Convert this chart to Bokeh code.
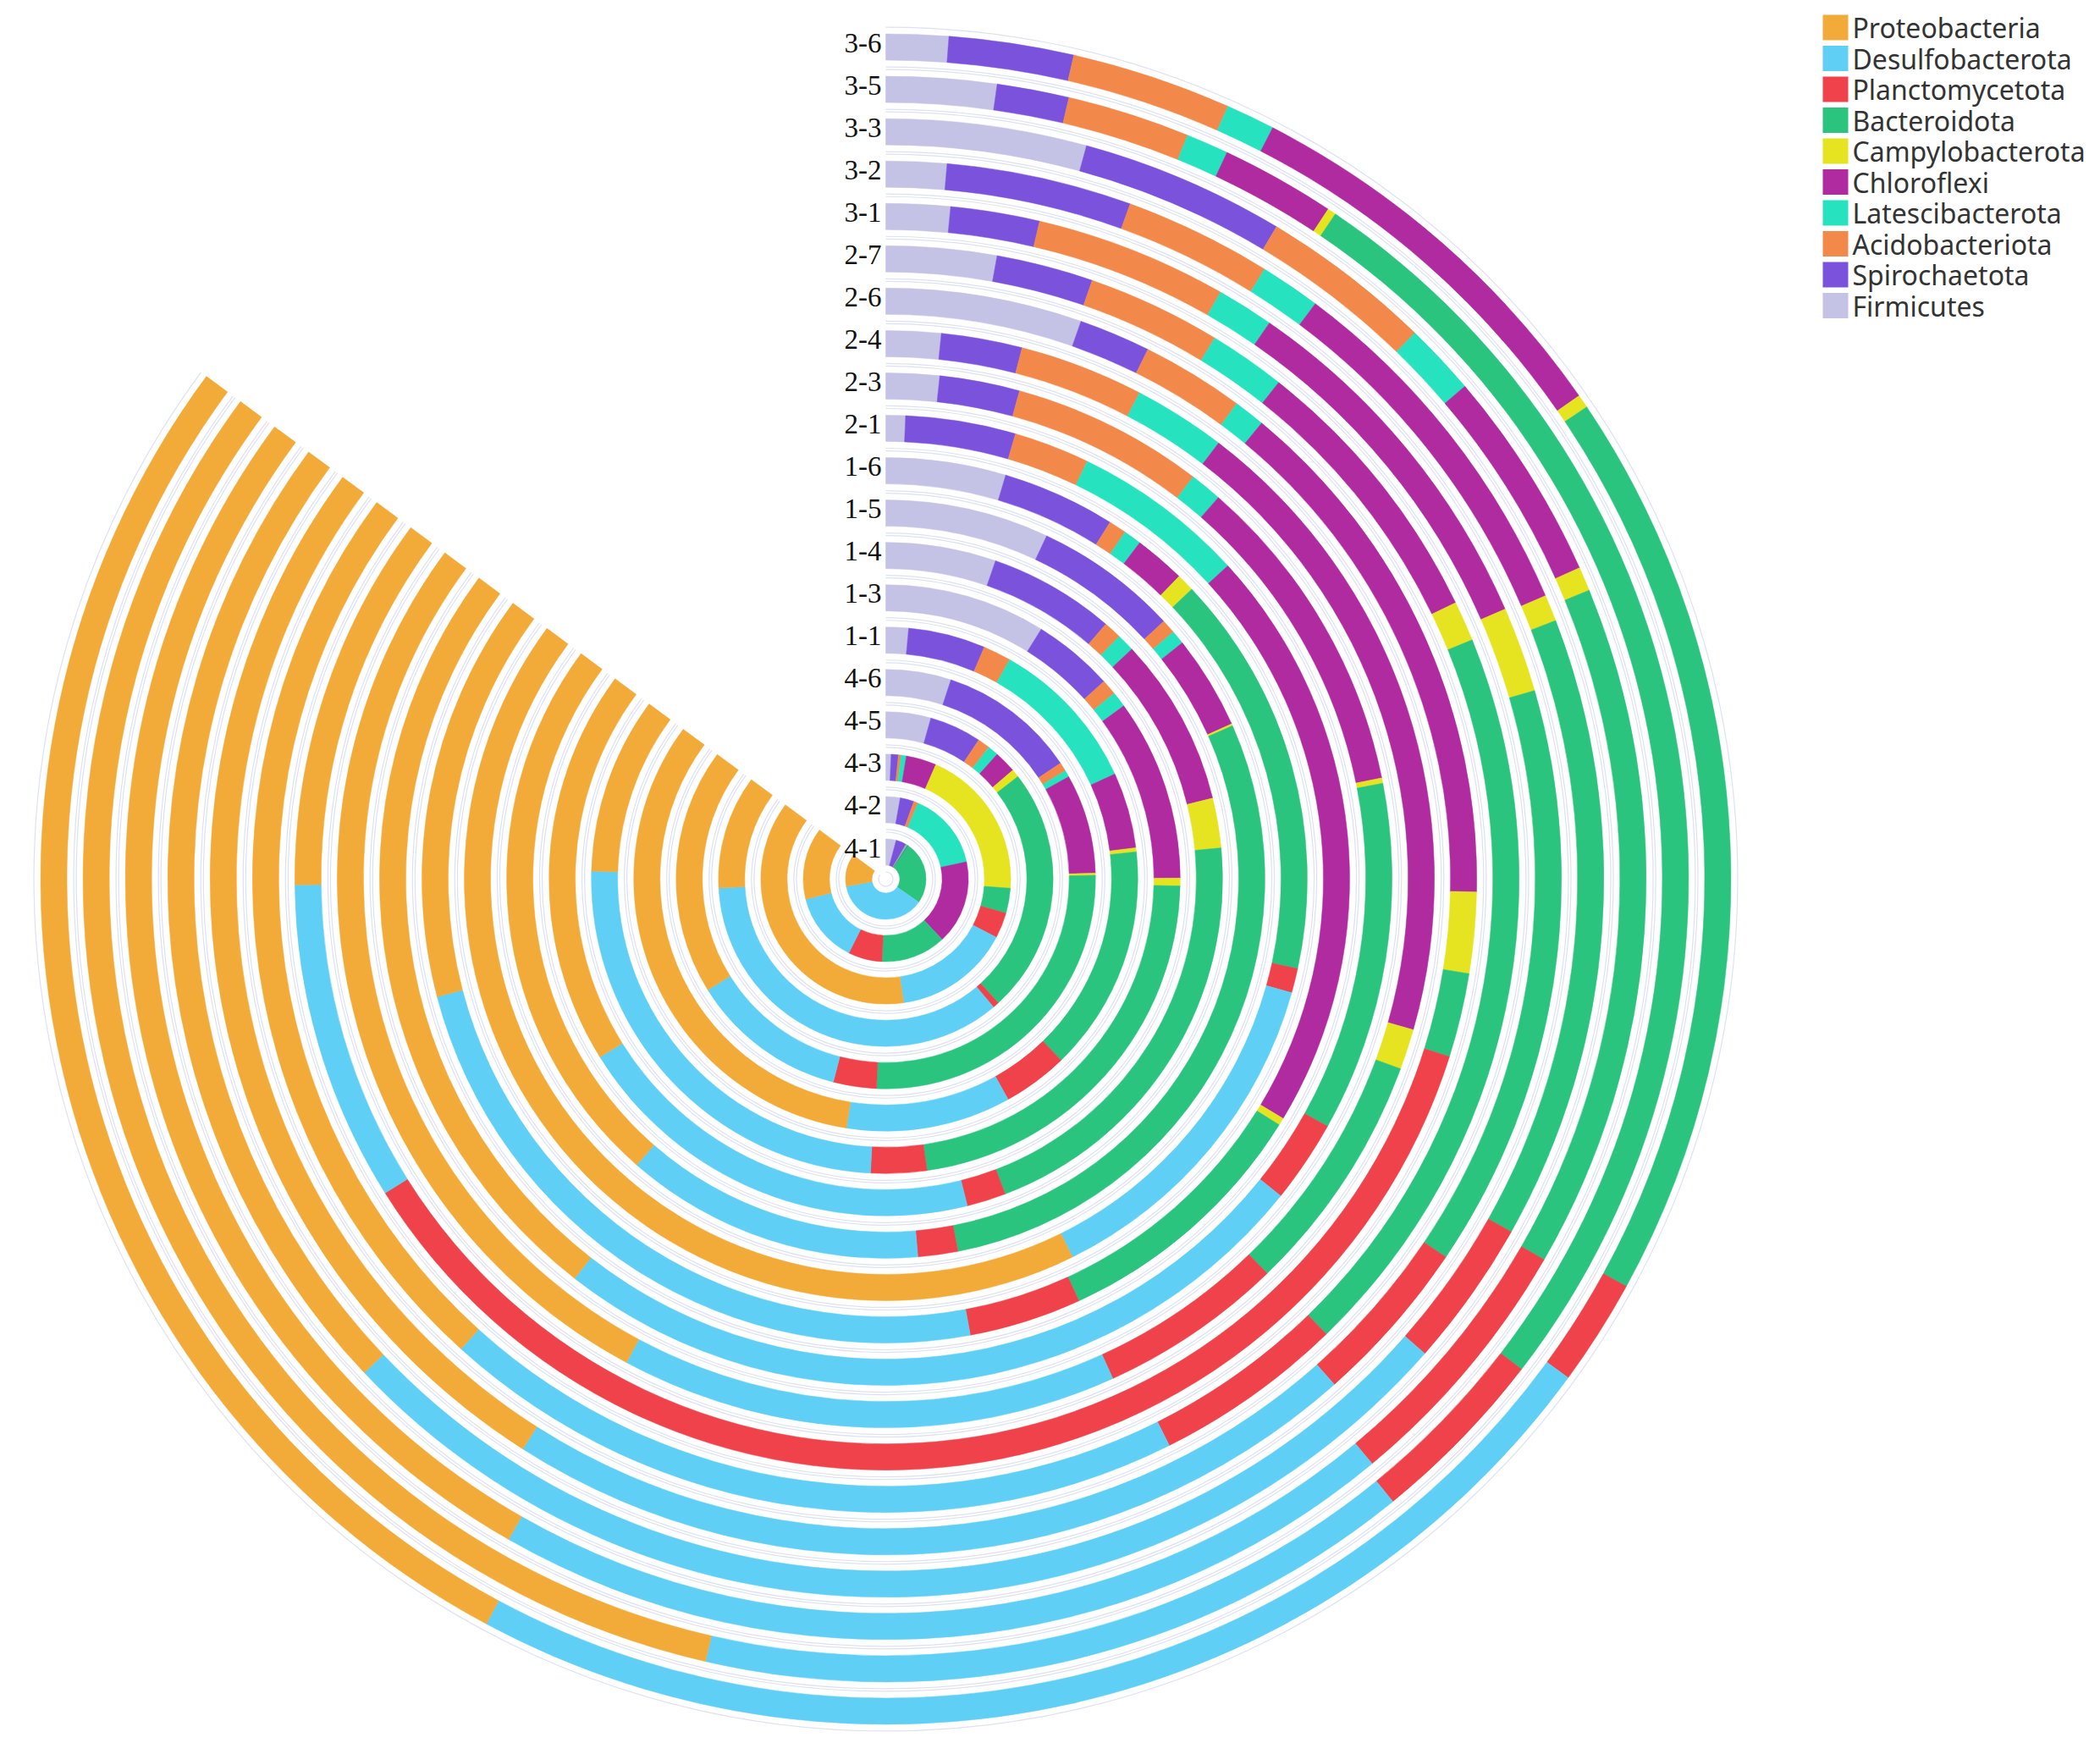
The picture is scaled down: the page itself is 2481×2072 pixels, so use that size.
import math
from bokeh.plotting import figure
from bokeh.models import ColumnDataSource, Range1d
from bokeh.embed import file_html
from bokeh.resources import INLINE
from bokeh.core.properties import value

# ---------------- data (relative abundance, %) ----------------
samples = ["4-1", "4-2", "4-3", "4-5", "4-6", "1-1", "1-3", "1-4", "1-5", "1-6",
           "2-1", "2-3", "2-4", "2-6", "2-7", "3-1", "3-2", "3-3", "3-5", "3-6"]

phyla = ["Proteobacteria", "Desulfobacterota", "Planctomycetota", "Bacteroidota",
         "Campylobacterota", "Chloroflexi", "Latescibacterota", "Acidobacteriota",
         "Spirochaetota", "Firmicutes"]

colors = ["#F2AB39", "#60CFF5", "#EF424A", "#2AC47F", "#E6E421",
          "#B02AA0", "#27E2BF", "#F2884A", "#7B52DC", "#C4C3E5"]

firmicutes       = [4.9, 3.3, 0.8, 5.1, 5.9, 1.7, 10.4, 6.2, 8.2, 5.4, 0.8, 2.0, 1.9, 6.3, 3.3, 1.8, 1.6, 5.0, 2.6, 1.4]
spirochaetota    = [4.9, 3.2, 1.1, 5.9, 12.5, 5.8, 5.2, 7.1, 7.2, 5.1, 4.5, 3.0, 2.8, 2.3, 2.9, 2.5, 4.9, 5.1, 1.7, 2.8]
acidobacteriota  = [0.3, 1.0, 0.4, 1.4, 0.8, 2.1, 1.0, 1.0, 0.7, 0.8, 3.1, 7.2, 4.3, 3.3, 4.0, 5.4, 3.9, 4.3, 2.9, 3.6]
latescibacterota = [0.7, 17.9, 0.8, 1.2, 0.6, 11.7, 1.0, 1.0, 0.7, 0.8, 7.1, 1.2, 3.2, 1.0, 2.3, 1.6, 1.6, 1.8, 1.0, 1.1]
chloroflexi      = [0.3, 19.3, 4.6, 2.5, 9.0, 5.7, 11.7, 9.5, 4.7, 2.3, 24.0, 12.2, 22.4, 16.9, 8.4, 10.4, 9.8, 5.3, 2.7, 9.1]
campylobacterota = [0.0, 0.0, 23.0, 0.9, 0.2, 0.3, 0.5, 2.8, 0.1, 0.8, 0.3, 0.2, 1.4, 2.6, 1.2, 2.4, 0.7, 0.6, 0.2, 0.3]
bacteroidota     = [29.7, 14.9, 3.8, 27.9, 30.5, 17.0, 26.3, 24.3, 33.6, 18.2, 10.9, 13.1, 8.4, 2.7, 22.2, 16.4, 16.5, 17.1, 30.5, 20.5]
planctomycetota  = [0.0, 7.8, 3.9, 0.7, 3.9, 4.9, 3.6, 2.2, 2.0, 1.1, 4.6, 3.1, 6.4, 42.6, 5.7, 4.7, 3.9, 6.6, 4.3, 2.4]
desulfobacterota = [43.9, 16.1, 17.6, 41.4, 14.2, 12.4, 28.9, 23.5, 15.0, 15.7, 28.0, 29.1, 17.2, 10.3, 22.4, 24.2, 31.1, 22.7, 17.0, 26.8]
proteobacteria   = [15.3, 16.5, 43.9, 12.9, 22.3, 38.3, 11.4, 22.3, 27.9, 49.9, 16.7, 28.9, 32.1, 12.1, 27.5, 30.7, 26.1, 31.6, 37.0, 32.1]

series = {
    "Proteobacteria": proteobacteria, "Desulfobacterota": desulfobacterota,
    "Planctomycetota": planctomycetota, "Bacteroidota": bacteroidota,
    "Campylobacterota": campylobacterota, "Chloroflexi": chloroflexi,
    "Latescibacterota": latescibacterota, "Acidobacteriota": acidobacteriota,
    "Spirochaetota": spirochaetota, "Firmicutes": firmicutes,
}
color_of = dict(zip(phyla, colors))
stack_order = list(reversed(phyla))  # clockwise from 12 o'clock

# ---------------- geometry (data units == screen pixels) ----------------
W, H = 2465, 2056
PAGE_H = 2072
CX, CY = 1046, PAGE_H - 1038
SWEEP = 306.5           # angular extent of each full ring (degrees)
R0, STEP, HALF = 32.0, 50.05, 15.5

def rad(deg):
    return math.radians(deg)

p = figure(width=W, height=H, output_backend="svg", toolbar_location=None,
           x_range=Range1d(0, W), y_range=Range1d(PAGE_H - H, PAGE_H),
           min_border=0, outline_line_color=None, background_fill_color="white")
p.axis.visible = False
p.grid.visible = False

xs, ys, rin, rout, a_start, a_end, cols = [], [], [], [], [], [], []
arc_r, arc_s, arc_e = [], [], []
for i, s in enumerate(samples):
    r = R0 + STEP * i
    vals = [series[name][i] for name in stack_order]
    total = sum(vals)
    cum = 0.0
    for name, v in zip(stack_order, vals):
        if v <= 0:
            continue
        t0 = cum / total * SWEEP
        cum += v
        t1 = cum / total * SWEEP
        xs.append(CX); ys.append(CY)
        rin.append(r - HALF); rout.append(r + HALF)
        a_start.append(rad(90 - t1)); a_end.append(rad(90 - t0))
        cols.append(color_of[name])
    for rr in (r - HALF - 8, r + HALF + 8):
        arc_r.append(rr); arc_s.append(rad(90 - SWEEP)); arc_e.append(rad(90))

# faint guide arcs beside each ring
arc_src = ColumnDataSource(dict(r=arc_r, s=arc_s, e=arc_e))
p.arc(x=CX, y=CY, radius="r", start_angle="s", end_angle="e", source=arc_src,
      line_color="#dde2f2", line_width=1.2)

src = ColumnDataSource(dict(x=xs, y=ys, ri=rin, ro=rout, sa=a_start, ea=a_end, c=cols))
p.annular_wedge(x="x", y="y", inner_radius="ri", outer_radius="ro",
                start_angle="sa", end_angle="ea",
                fill_color="c", line_color="c", line_width=0.5, source=src)

# sample labels at the start of each ring
lab_src = ColumnDataSource(dict(
    x=[CX - 5] * len(samples),
    y=[CY + R0 + STEP * i + 5 for i in range(len(samples))],
    t=samples))
p.text(x="x", y="y", text="t", source=lab_src, text_align="right",
       text_baseline="middle", text_font=value("Liberation Serif"),
       text_font_size="33px", text_color="#111111")

# legend (drawn manually, top-right)
top0, dy = 17, 36.5
lt = [PAGE_H - (top0 + dy * k) for k in range(len(phyla))]
p.quad(left=2153, right=2183, top=lt, bottom=[t - 30 for t in lt], fill_color=colors,
       line_color=None)
p.text(x=[2188] * len(phyla), y=[t - 15 for t in lt], text=phyla, text_align="left",
       text_baseline="middle", text_font=value("Noto Sans"), text_font_size="32px",
       text_color="#333333")

open("out.html", "w").write(file_html(p, INLINE))
